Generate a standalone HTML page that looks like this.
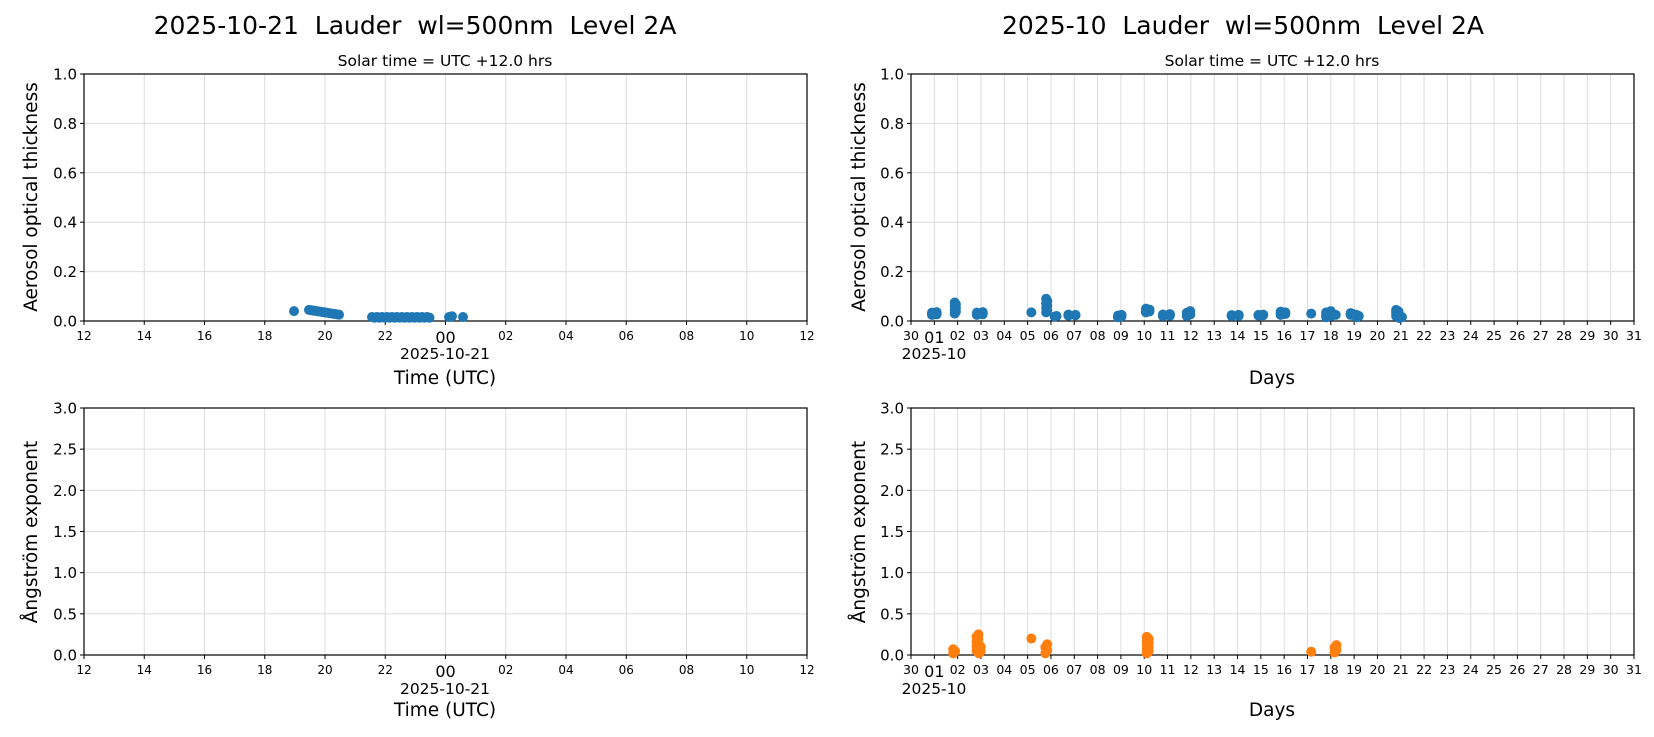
<!DOCTYPE html>
<html><head><meta charset="utf-8"><style>
body{margin:0;background:#fff}
svg{display:block;font-family:"DejaVu Sans","Liberation Sans",sans-serif}
</style></head><body>
<svg id="s" width="1654" height="737" xmlns="http://www.w3.org/2000/svg"></svg>
<script>
const s=document.getElementById('s');let h='';
const BL='#1f77b4',OR='#ff7f0e';
function txt(x,y,t,sz,anc='middle',extra=''){h+=`<text x="${x}" y="${y}" font-size="${sz}" text-anchor="${anc}" ${extra}>${t}</text>`;}
function axes(x0,x1,y0,y1,xt,yt,ymax,big){
 xt.forEach(([v,l])=>{const x=x0+v*(x1-x0);h+=`<line x1="${x}" y1="${y0}" x2="${x}" y2="${y1}" stroke="#dcdcdc" stroke-width="1"/>`;});
 yt.forEach(v=>{const y=y1-v/ymax*(y1-y0);h+=`<line x1="${x0}" y1="${y}" x2="${x1}" y2="${y}" stroke="#dcdcdc" stroke-width="1"/>`;});
 h+=`<rect x="${x0}" y="${y0}" width="${x1-x0}" height="${y1-y0}" fill="none" stroke="#000" stroke-width="1.2"/>`;
 xt.forEach(([v,l],i)=>{const x=x0+v*(x1-x0);h+=`<line x1="${x}" y1="${y1}" x2="${x}" y2="${y1+4}" stroke="#000"/>`;
  if(i===big) txt(x,y1+22,l,16); else txt(x,y1+19,l,xt.length>20?12.5:12);});
 yt.forEach(v=>{const y=y1-v/ymax*(y1-y0);h+=`<line x1="${x0-4}" y1="${y}" x2="${x0}" y2="${y}" stroke="#000"/>`;
  txt(x0-7,y+5.5,v.toFixed(1),15,'end');});
}
function dots(x0,x1,y0,y1,ymax,pts,col,xs){pts.forEach(([v,a])=>{const x=x0+v*xs;const y=y1-a/ymax*(y1-y0);h+=`<circle cx="${x}" cy="${y}" r="5" fill="${col}"/>`;});}
const LX0=84,LX1=807,RX0=911,RX1=1634;
const lt=[];const lab=['12','14','16','18','20','22','00','02','04','06','08','10','12'];
lab.forEach((l,i)=>lt.push([i/12,l]));
const rt=[];const rl=['30'];for(let d=1;d<=31;d++)rl.push(String(d).padStart(2,'0'));
rl.forEach((l,i)=>rt.push([i/31,l]));
axes(LX0,LX1,74,321,lt,[0,0.2,0.4,0.6,0.8,1.0],1,6);
axes(LX0,LX1,408,655,lt,[0,0.5,1,1.5,2,2.5,3],3,6);
axes(RX0,RX1,74,321,rt,[0,0.2,0.4,0.6,0.8,1.0],1,1);
axes(RX0,RX1,408,655,rt,[0,0.5,1,1.5,2,2.5,3],3,1);
let lp=[[294-84,0.04]];
for(let x=309;x<=340;x+=2.5)lp.push([x-84,0.045-(x-309)/31*0.02]);
for(let x=372;x<=431;x+=2.5)lp.push([x-84,0.012+((x*7)%5)*0.001]);
lp.push([449-84,0.016],[452-84,0.019],[463-84,0.016]);
dots(LX0,LX1,74,321,1,lp,BL,1);
const dw=(RX1-RX0)/31;
const rp=[];
function cl(d,lo,hi,n=5,dd=0.08){for(let i=0;i<n;i++){rp.push([d+(i%2?dd:-dd)*0.5,lo+(hi-lo)*i/Math.max(1,n-1)]);}}
cl(1.0,0.025,0.036,6,0.2);cl(1.9,0.03,0.075,7,0.05);cl(2.95,0.025,0.036,6,0.25);
cl(5.2,0.035,0.035,1);cl(5.82,0.035,0.09,7,0.05);cl(6.2,0.018,0.02,2);cl(6.9,0.022,0.026,5,0.3);
cl(8.95,0.015,0.025,4,0.15);cl(10.15,0.035,0.05,5,0.15);cl(10.95,0.02,0.028,6,0.3);
cl(11.9,0.02,0.04,4,0.15);cl(13.9,0.02,0.025,6,0.3);cl(15.0,0.022,0.026,4,0.2);
cl(15.95,0.025,0.038,5,0.2);cl(17.2,0.03,0.03,1);cl(17.9,0.015,0.04,6,0.2);cl(18.25,0.025,0.025,1);
cl(18.9,0.025,0.032,3,0.1);cl(19.15,0.015,0.025,3,0.1);cl(20.85,0.02,0.045,5,0.1);cl(21.0,0.012,0.02,3,0.1);
dots(RX0,RX1,74,321,1,rp,BL,dw);
const op=[];function oc(d,lo,hi,n){for(let i=0;i<n;i++)op.push([d+(i%2?0.04:-0.04),lo+(hi-lo)*i/Math.max(1,n-1)]);}
oc(1.85,0.02,0.07,3);oc(2.85,0.05,0.25,8);oc(2.95,0.02,0.1,4);oc(5.2,0.2,0.2,1);oc(5.8,0.02,0.13,4);
oc(10.15,0.02,0.22,9);oc(17.2,0.04,0.04,1);oc(18.2,0.03,0.12,4);
dots(RX0,RX1,408,655,3,op,OR,dw);
txt(415,34,'2025-10-21&#160; Lauder&#160; wl=500nm&#160; Level 2A',25);
txt(1243,34,'2025-10&#160; Lauder&#160; wl=500nm&#160; Level 2A',25);
txt(445,66,'Solar time = UTC +12.0 hrs',15.5);
txt(1272,66,'Solar time = UTC +12.0 hrs',15.5);
txt(445,359,'2025-10-21',15.5);txt(445,694,'2025-10-21',15.5);
txt(445,384,'Time (UTC)',18.5);txt(445,716,'Time (UTC)',18.5);
txt(934,359,'2025-10',15.5);txt(934,694,'2025-10',15.5);
txt(1272,384,'Days',18.5);txt(1272,716,'Days',18.5);
txt(0,0,'Aerosol optical thickness',18.5,'middle','transform="translate(37,197) rotate(-90)"');
txt(0,0,'Aerosol optical thickness',18.5,'middle','transform="translate(865,197) rotate(-90)"');
txt(0,0,'Ångström exponent',18.5,'middle','transform="translate(37,532) rotate(-90)"');
txt(0,0,'Ångström exponent',18.5,'middle','transform="translate(865,532) rotate(-90)"');
s.innerHTML=h;
</script>
</body></html>
